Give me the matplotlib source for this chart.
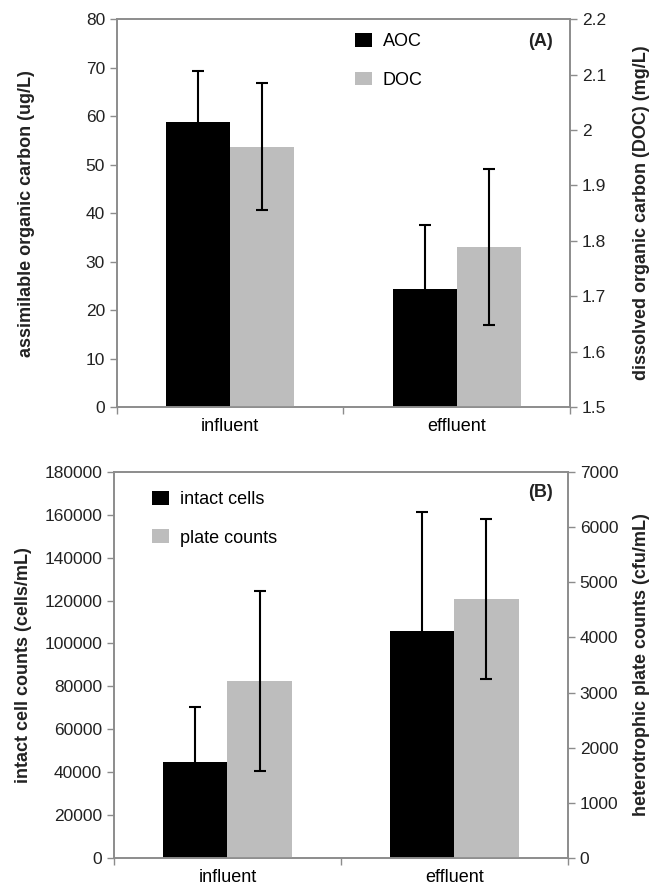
import matplotlib
matplotlib.use("Agg")
import matplotlib.pyplot as plt
import numpy as np
from matplotlib.patches import Patch

categories = ["influent", "effluent"]
# Panel A
aoc = [58.8, 24.3]
aoc_err = [10.5, 13.2]
doc = [1.970, 1.789]
doc_err = [0.114, 0.140]
aoc_ticks = [0, 10, 20, 30, 40, 50, 60, 70, 80]
doc_ticks = [1.5, 1.6, 1.7, 1.8, 1.9, 2.0, 2.1, 2.2]
doc_ticklabels = ["1.5", "1.6", "1.7", "1.8", "1.9", "2", "2.1", "2.2"]
# Panel B
intact = [45000, 106000]
intact_err = [25500, 55400]
plate = [3215, 4690]
plate_err = [1630, 1445]
intact_ticks = list(range(0, 180001, 20000))
plate_ticks = list(range(0, 7001, 1000))

BLACK = "#000000"
GRAY = "#bdbdbd"
SPINE = "#8c8c8c"
TXT = "#222222"
NUMFONT = ["Liberation Sans", "DejaVu Sans"]
LABFONT = ["Liberation Sans", "DejaVu Sans"]

fig = plt.figure(figsize=(6.53, 8.91), dpi=100)

def panel(rect, left_vals, left_err, right_vals, right_err, lmax, rmin, rmax,
          lticks, rticks, rticklabels, llabel, rlabel, legend_labels, legend_loc,
          tag, tag_pos, lab_x):
    ax = fig.add_axes(rect)
    tw = ax.twinx()
    x = np.arange(len(categories)) + 0.5
    w = 0.283
    ekw = dict(ecolor="black", elinewidth=1.5, capsize=4, capthick=1.5)
    ax.bar(x - w / 2, left_vals, w, color=BLACK, yerr=left_err, error_kw=ekw, zorder=2)
    tw.bar(x + w / 2, [v - rmin for v in right_vals], w, bottom=rmin, color=GRAY,
           yerr=right_err, error_kw=ekw, zorder=2)
    ax.set_xlim(0, 2)
    ax.set_ylim(0, lmax)
    tw.set_ylim(rmin, rmax)
    ax.set_yticks(lticks)
    ax.set_yticklabels([str(t) for t in lticks])
    tw.set_yticks(rticks)
    tw.set_yticklabels(rticklabels)
    ax.set_xticks([0, 1, 2])
    ax.set_xticklabels([])
    ax.set_xticks(x, minor=True)
    ax.set_xticklabels(categories, minor=True)
    for a in (ax, tw):
        for s in a.spines.values():
            s.set_color(SPINE)
            s.set_linewidth(1.2)
        a.tick_params(colors=SPINE, labelcolor=TXT, length=5, width=1.0, labelsize=12.5)
        for lab in a.get_yticklabels() + a.get_xticklabels(minor=True):
            lab.set_family(NUMFONT)
    ax.tick_params(axis="x", which="minor", length=0, pad=8, labelsize=13)
    ax.set_ylabel(llabel, fontsize=13, fontweight="bold", family=LABFONT, color=TXT)
    tw.set_ylabel(rlabel, fontsize=13, fontweight="bold", family=LABFONT, color=TXT)
    ax.yaxis.set_label_coords(lab_x[0], 0.5)
    tw.yaxis.set_label_coords(lab_x[1], 0.5)
    handles = [Patch(facecolor=BLACK), Patch(facecolor=GRAY)]
    ax.legend(handles, legend_labels, loc="upper left", bbox_to_anchor=legend_loc,
              frameon=False, prop={"family": NUMFONT, "size": 13},
              borderpad=0, borderaxespad=0,
              handlelength=0.95, handleheight=0.8, handletextpad=0.6, labelspacing=1.18)
    ax.text(tag_pos[0], tag_pos[1], tag, transform=ax.transAxes, ha="right", va="center",
            fontsize=13, fontweight="bold", family=NUMFONT, color=TXT)
    return ax, tw

panel([0.179, 0.543, 0.694, 0.4355], aoc, aoc_err, doc, doc_err, 80, 1.5, 2.2,
      aoc_ticks, doc_ticks, doc_ticklabels,
      "assimilable organic carbon (ug/L)", "dissolved organic carbon (DOC) (mg/L)",
      ["AOC", "DOC"], (0.525, 0.964), "(A)", (0.9625, 0.9415), (-0.18, 1.139))

panel([0.1746, 0.0367, 0.695, 0.434], intact, intact_err, plate, plate_err, 180000, 0, 7000,
      intact_ticks, plate_ticks, [str(t) for t in plate_ticks],
      "intact cell counts (cells/mL)", "heterotrophic plate counts (cfu/mL)",
      ["intact cells", "plate counts"], (0.084, 0.95), "(B)", (0.967, 0.945), (-0.18, 1.143))

fig.savefig("out.png", dpi=100)
